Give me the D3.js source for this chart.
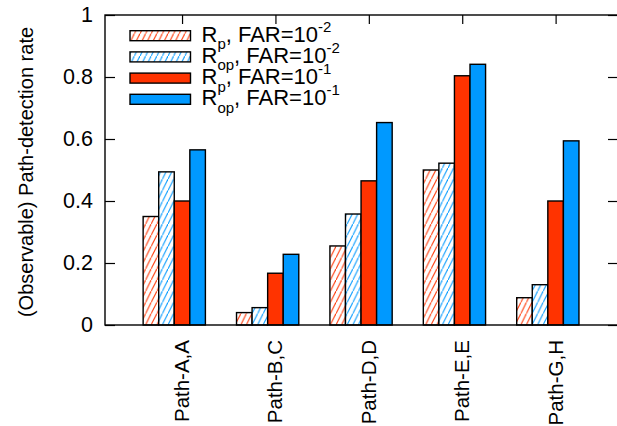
<!DOCTYPE html>
<html>
<head>
<meta charset="utf-8">
<script src="https://cdn.jsdelivr.net/npm/d3@7"></script>
<style>
  html, body { margin: 0; padding: 0; background: #fff; }
  svg { display: block; font-family: "Liberation Sans", Arial, Helvetica, sans-serif; }
</style>
</head>
<body>
<svg id="chart" width="617" height="426"></svg>
<script>
// Path categories along the x axis
const categories = ["Path-A,A", "Path-B,C", "Path-D,D", "Path-E,E", "Path-G,H"];

// Detection rates per series
const rpFar2  = [0.350, 0.040, 0.255, 0.500, 0.088];
const ropFar2 = [0.494, 0.056, 0.358, 0.522, 0.130];
const rpFar1  = [0.400, 0.167, 0.465, 0.804, 0.400];
const ropFar1 = [0.565, 0.228, 0.653, 0.841, 0.594];

const yTicks = [0, 0.2, 0.4, 0.6, 0.8, 1];

const RED = "#ff3300", BLUE = "#0099ff";

// Series definitions: legend label parts, colour, hatched or solid
const series = [
  { values: rpFar2,  sub: "p",  exp: "-2", color: RED,  hatched: true },
  { values: ropFar2, sub: "op", exp: "-2", color: BLUE, hatched: true },
  { values: rpFar1,  sub: "p",  exp: "-1", color: RED,  hatched: false },
  { values: ropFar1, sub: "op", exp: "-1", color: BLUE, hatched: false }
];

const svg = d3.select("#chart");
const plot = { left: 105, right: 618, top: 15, bottom: 325 };

const x = d3.scaleLinear().domain([-0.825, 4.668]).range([plot.left, plot.right]);
const y = d3.scaleLinear().domain([0, 1]).range([plot.bottom, plot.top]);

const nSeries = series.length;
const slot = 1 / (nSeries + 2);

// Hatch patterns
const defs = svg.append("defs");
[["hatch-red", RED], ["hatch-blue", BLUE]].forEach(([id, c]) => {
  const p = defs.append("pattern")
    .attr("id", id)
    .attr("patternUnits", "userSpaceOnUse")
    .attr("width", 5.6).attr("height", 11.2);
  p.append("rect").attr("width", 5.6).attr("height", 11.2).attr("fill", "#fff");
  p.append("path")
    .attr("d", "M-1,13.2 L6.6,-2")
    .attr("stroke", c).attr("stroke-width", 1.1).attr("fill", "none");
});

const fill = s => s.hatched ? (s.color === RED ? "url(#hatch-red)" : "url(#hatch-blue)") : s.color;

// Bottom axis (ticks sit under the bars)
const xAxis = d3.axisBottom(x)
  .tickValues(d3.range(categories.length))
  .tickFormat(i => categories[i])
  .tickSizeInner(-9).tickSizeOuter(0).tickPadding(0);
const gx = svg.append("g")
  .attr("transform", `translate(0,${plot.bottom})`)
  .call(xAxis);
gx.select(".domain").remove();
gx.selectAll(".tick line").attr("stroke", "#000").attr("stroke-width", 1.2);
gx.selectAll(".tick text")
  .attr("font-size", 20.5)
  .attr("fill", "#000")
  .attr("text-anchor", "end")
  .attr("dy", null)
  .attr("y", null)
  .attr("transform", "translate(6.5,15) rotate(-90)");

// Bars
series.forEach((s, j) => {
  svg.append("g").selectAll("rect")
    .data(s.values)
    .join("rect")
    .attr("x", (d, i) => x(i + (j - 2.5) * slot))
    .attr("width", x(slot) - x(0))
    .attr("y", d => y(d))
    .attr("height", d => y(0) - y(d))
    .attr("fill", fill(s))
    .attr("stroke", "#000")
    .attr("stroke-width", 1.4);
});

// Left axis
const yAxis = d3.axisLeft(y).tickValues(yTicks).tickFormat(d3.format("~g"))
  .tickSizeInner(-10).tickSizeOuter(0).tickPadding(12);
const gy = svg.append("g").attr("transform", `translate(${plot.left},0)`).call(yAxis);
gy.select(".domain").remove();
gy.selectAll(".tick line").attr("stroke", "#000").attr("stroke-width", 1.2);
gy.selectAll(".tick text").attr("font-size", 21.5).attr("fill", "#000");

// Mirrored ticks on right and top
const gr = svg.append("g").attr("transform", `translate(${plot.right},0)`)
  .call(d3.axisRight(y).tickValues(yTicks).tickFormat("").tickSizeInner(-10).tickSizeOuter(0));
gr.select(".domain").remove();
gr.selectAll(".tick line").attr("stroke", "#000").attr("stroke-width", 1.2);

const gt = svg.append("g").attr("transform", `translate(0,${plot.top})`)
  .call(d3.axisTop(x).tickValues(d3.range(categories.length)).tickFormat("").tickSizeInner(-9).tickSizeOuter(0));
gt.select(".domain").remove();
gt.selectAll(".tick line").attr("stroke", "#000").attr("stroke-width", 1.2);

// Frame
svg.append("rect")
  .attr("x", plot.left).attr("y", plot.top)
  .attr("width", plot.right - plot.left).attr("height", plot.bottom - plot.top)
  .attr("fill", "none").attr("stroke", "#000").attr("stroke-width", 1.4);

// Y axis title
svg.append("text")
  .attr("transform", `translate(33,172) rotate(-90)`)
  .attr("text-anchor", "middle")
  .attr("font-size", 20)
  .attr("fill", "#000")
  .text("(Observable) Path-detection rate");

// Legend
const legend = svg.append("g");
const rowY = [35.7, 56.9, 78.1, 99.3];
series.forEach((s, j) => {
  const cy = rowY[j];
  legend.append("rect")
    .attr("x", 130).attr("y", cy - 5)
    .attr("width", 60.5).attr("height", 10)
    .attr("fill", fill(s))
    .attr("stroke", "#000").attr("stroke-width", 1.4);
  const t = legend.append("text")
    .attr("x", 201.5).attr("y", cy + 6)
    .attr("font-size", 22).attr("fill", "#000");
  t.append("tspan").text("R");
  t.append("tspan").attr("dy", 7.5).attr("font-size", 15).text(s.sub);
  t.append("tspan").attr("dy", -7.5).text(", FAR=10");
  t.append("tspan").attr("dy", -10).attr("font-size", 15).text(s.exp);
});
</script>
</body>
</html>
